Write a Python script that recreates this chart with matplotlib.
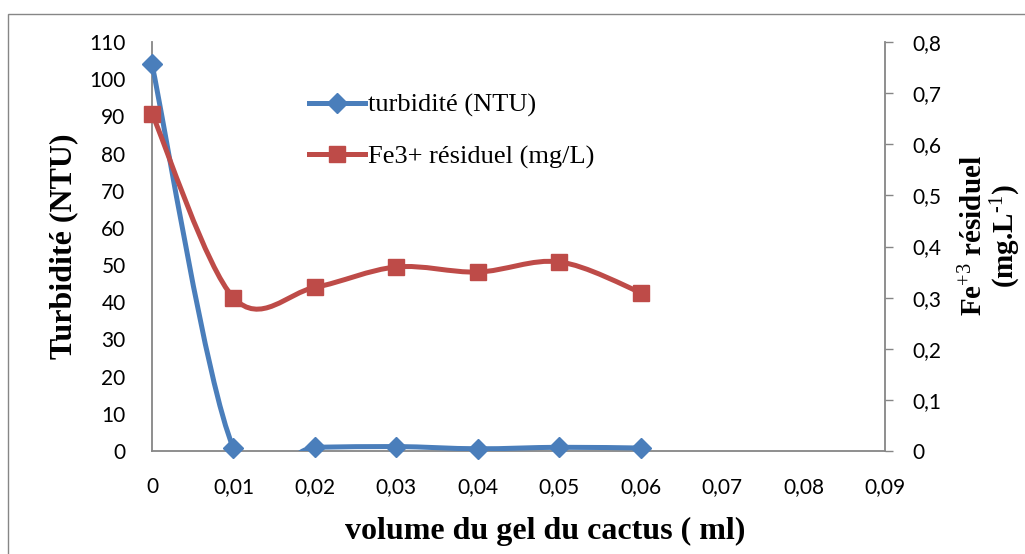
import matplotlib
matplotlib.use("Agg")
import matplotlib.pyplot as plt
from matplotlib.path import Path
from matplotlib.patches import PathPatch, Rectangle
from matplotlib.lines import Line2D
import numpy as np

# ---- data ----
volume = [0, 0.01, 0.02, 0.03, 0.04, 0.05, 0.06]
turbidite = [104, 0.8, 1.0, 1.2, 0.6, 1.0, 0.8]
fe_residuel = [0.66, 0.30, 0.32, 0.36, 0.35, 0.37, 0.31]

x_ticks = [0, 0.01, 0.02, 0.03, 0.04, 0.05, 0.06, 0.07, 0.08, 0.09]
x_tick_labels = ["0", "0,01", "0,02", "0,03", "0,04", "0,05", "0,06", "0,07", "0,08", "0,09"]
left_ticks = [0, 10, 20, 30, 40, 50, 60, 70, 80, 90, 100, 110]
left_tick_labels = [str(v) for v in left_ticks]
right_ticks = [0, 0.1, 0.2, 0.3, 0.4, 0.5, 0.6, 0.7, 0.8]
right_tick_labels = ["0", "0,1", "0,2", "0,3", "0,4", "0,5", "0,6", "0,7", "0,8"]

label_turb = "turbidité (NTU)"
label_fe = "Fe3+ résiduel (mg/L)"

BLUE = "#4A7EBB"
RED = "#BE4B48"
GRAY = "#868686"
TICKFONT = "Lato"
SERIF = "Liberation Serif"

plt.rcParams["mathtext.fontset"] = "custom"
plt.rcParams["mathtext.rm"] = SERIF
plt.rcParams["mathtext.it"] = SERIF + ":italic"
plt.rcParams["mathtext.bf"] = SERIF + ":bold"
plt.rcParams["mathtext.default"] = "bf"


def smooth_path(xs, ys):
    """Excel-style smoothed line: cubic Bezier through the points."""
    pts = np.column_stack([xs, ys]).astype(float)
    n = len(pts)
    verts = [pts[0]]
    codes = [Path.MOVETO]
    for i in range(n - 1):
        p0 = pts[i - 1] if i > 0 else pts[i]
        p1 = pts[i]
        p2 = pts[i + 1]
        p3 = pts[i + 2] if i + 2 < n else pts[i + 1]
        c1 = p1 + (p2 - p0) / 6.0
        c2 = p2 - (p3 - p1) / 6.0
        verts += [c1, c2, p2]
        codes += [Path.CURVE4] * 3
    return Path(verts, codes)


fig = plt.figure(figsize=(10.25, 5.54), dpi=100)
fig.patches.append(Rectangle((8 / 1025, -0.2), 1.2, 0.2 + (1 - 14 / 554),
                             transform=fig.transFigure, fill=False,
                             edgecolor=GRAY, linewidth=1.0))

ax = fig.add_axes([152 / 1025, 1 - 451 / 554, (885 - 152) / 1025, (451 - 42) / 554])
ax2 = ax.twinx()

# turbidity (left axis)
ax.add_patch(PathPatch(smooth_path(volume, turbidite), fill=False,
                       edgecolor=BLUE, linewidth=3.6, capstyle="round", zorder=3))
ax.plot(volume, turbidite, linestyle="none", marker="D", markersize=10,
        color=BLUE, zorder=4, clip_on=False)

# Fe3+ (right axis)
ax2.add_patch(PathPatch(smooth_path(volume, fe_residuel), fill=False,
                        edgecolor=RED, linewidth=3.6, capstyle="round", zorder=3))
ax2.plot(volume, fe_residuel, linestyle="none", marker="s", markersize=12,
         color=RED, zorder=4, clip_on=False)

ax.set_xlim(0, 0.09)
ax.set_ylim(0, 110)
ax2.set_ylim(0, 0.8)

ax.set_xticks(x_ticks)
ax.set_xticklabels(x_tick_labels, fontsize=15, family=TICKFONT)
ax.set_yticks(left_ticks)
ax.set_yticklabels(left_tick_labels, fontsize=15, family=TICKFONT)
ax2.set_yticks(right_ticks)
ax2.set_yticklabels(right_tick_labels, fontsize=15, family=TICKFONT)

ax.tick_params(axis="x", length=0, pad=19)
ax.tick_params(axis="y", length=0, pad=19)
ax2.tick_params(axis="y", length=6, width=1, color=GRAY, pad=14, direction="out")

for a in (ax, ax2):
    a.spines["top"].set_visible(False)
    for s in ("left", "right", "bottom"):
        a.spines[s].set_color(GRAY)
        a.spines[s].set_linewidth(1.3)
ax.spines["right"].set_visible(False)
ax2.spines["left"].set_visible(False)
ax2.spines["bottom"].set_visible(False)

ax.set_xlabel("volume du gel du cactus ( ml)", fontsize=23, fontweight="bold",
              family=SERIF, labelpad=8)
ax.xaxis.set_label_coords((545 - 152) / 733, -(517 - 451) / 409)
ax.set_ylabel("Turbidité (NTU)", fontsize=23, fontweight="bold", family=SERIF,
              labelpad=8)
ax2.set_ylabel("Fe$^{\\mathrm{+3}}$ résiduel\n(mg.L$^{\\mathrm{\u20101}}$)",
               fontsize=21, fontweight="bold", family=SERIF, linespacing=1.0)
ax2.yaxis.set_label_coords((960 - 152) / 733, (451 - 236) / 409)

handles = [
    Line2D([], [], color=BLUE, linewidth=3.6, marker="D", markersize=10),
    Line2D([], [], color=RED, linewidth=3.6, marker="s", markersize=12),
]
leg = ax.legend(handles, [label_turb, label_fe], loc="upper left",
                bbox_to_anchor=((298 - 152) / 733, (451 - 83) / 409),
                frameon=False, handlelength=2.15, handletextpad=0.12,
                labelspacing=1.05, borderaxespad=0,
                prop={"family": SERIF, "size": 19})

fig.savefig("out.png", dpi=100)
